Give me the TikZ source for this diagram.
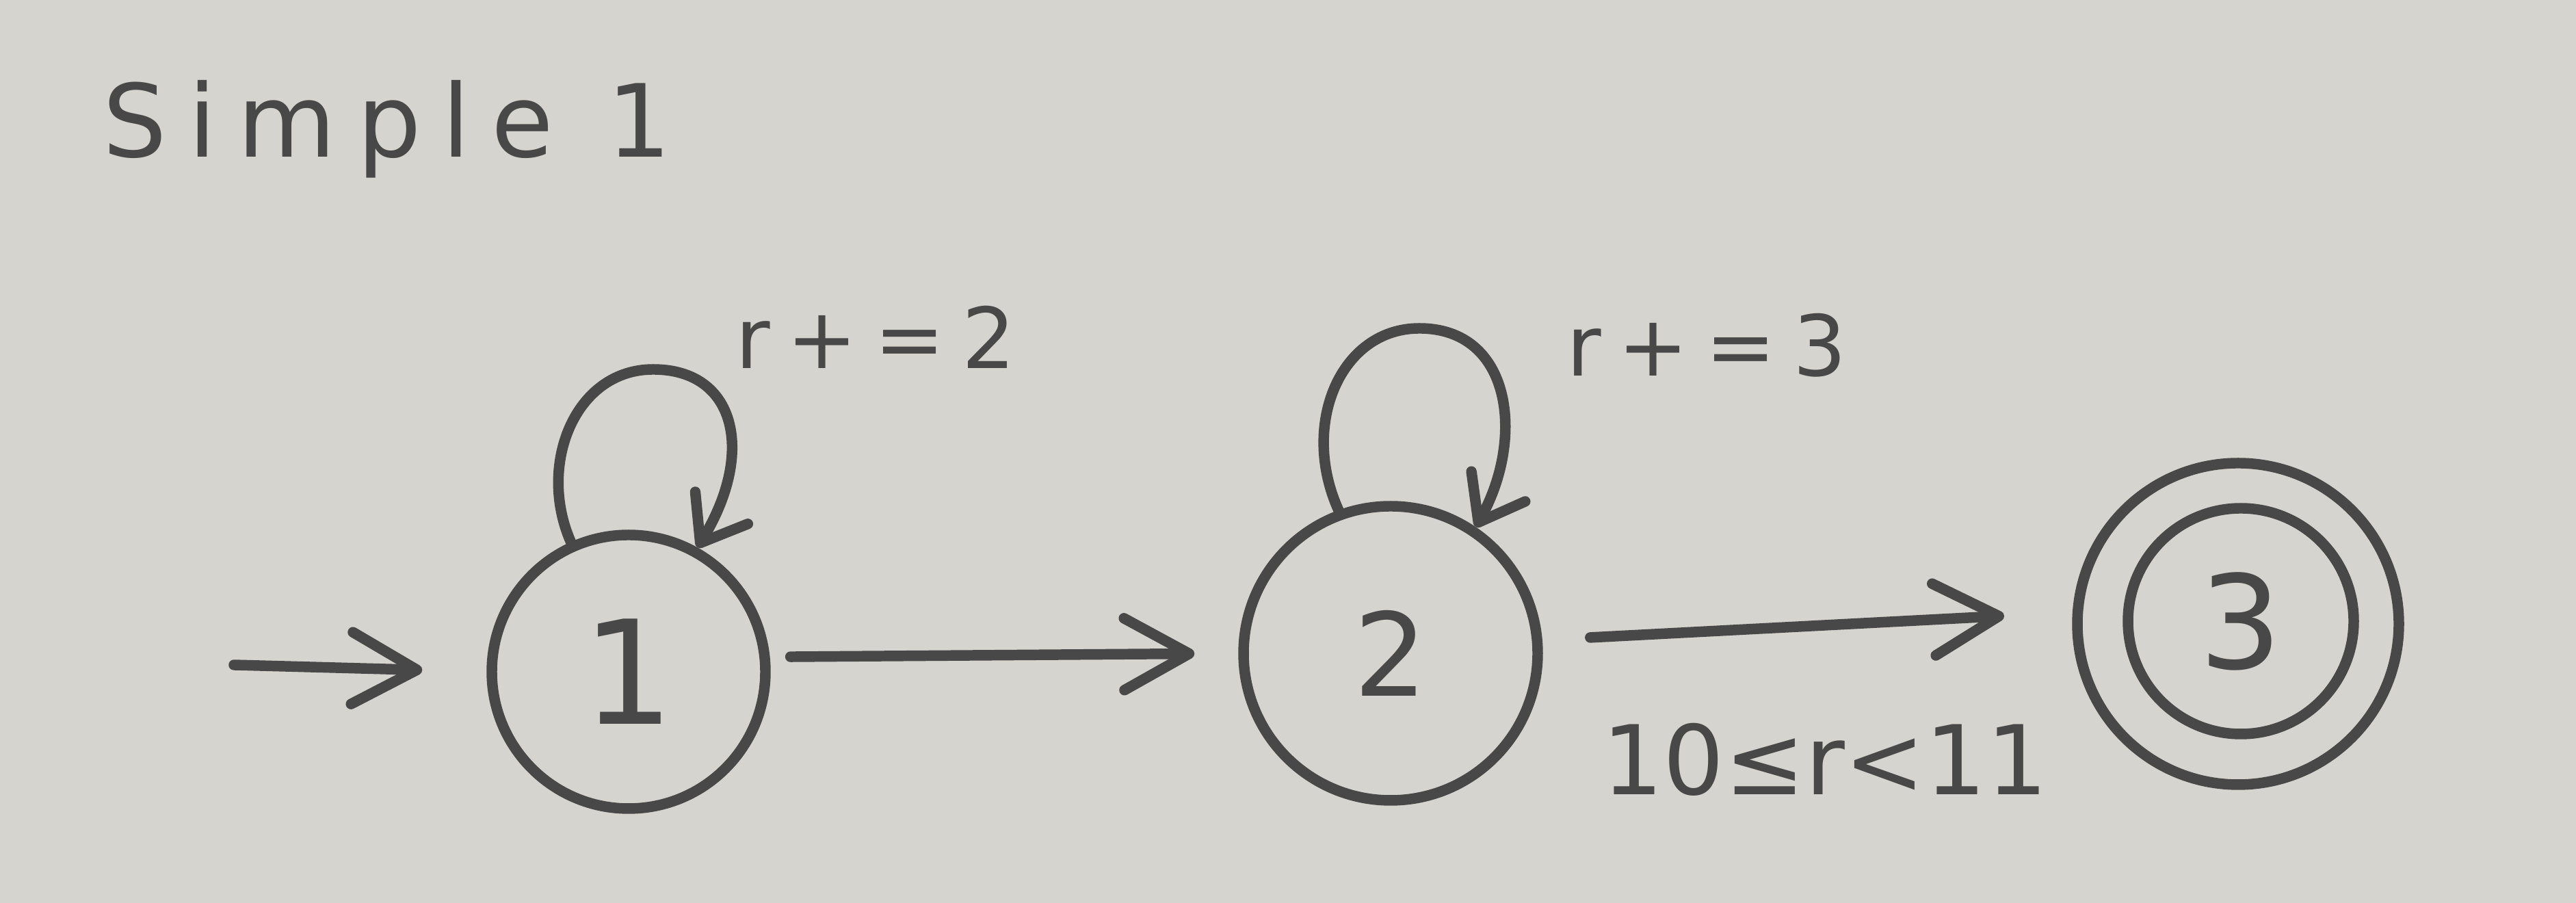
\documentclass[tikz,border=0pt]{standalone}
\usepackage{fontspec}
\setmainfont{DejaVu Sans}
\usetikzlibrary{arrows.meta}
\definecolor{paper}{RGB}{214,212,207}
\definecolor{ink}{RGB}{72,72,72}
\begin{document}
\begin{tikzpicture}[x=1cm,y=1cm,
  state/.style={circle, draw=ink, line width=4.4pt, inner sep=0pt, text=ink},
  arr/.style={draw=ink, line width=4.4pt, line cap=round, -{Straight Barb[round, length=0.95cm, width=1.05cm]}},
  looparr/.style={draw=ink, line width=4.4pt, line cap=round, -{Straight Barb[round, length=0.6cm, width=0.9cm]}},
  lbl/.style={text=ink, inner sep=0pt, font=\fontsize{35}{40}\selectfont\addfontfeature{LetterSpace=20}}]
\fill[paper] (0,0) rectangle (37.66,13.20);
\useasboundingbox (0,0) rectangle (37.66,13.20);
\node[anchor=base west, text=ink, inner sep=0pt, font=\fontsize{42}{46}\selectfont\addfontfeature{LetterSpace=21}] (title) at (1.5,10.9) {Simple 1};
\node[state, minimum size=4.0cm, font=\fontsize{60}{60}\selectfont] (s1) at (9.19,3.38) {1};
\node[state, minimum size=4.3cm, font=\fontsize{48}{48}\selectfont] (s2) at (20.33,3.65) {2};
\node[state, minimum size=4.7cm] (s3o) at (32.72,4.08) {};
\node[state, minimum size=3.3cm, font=\fontsize{54}{54}\selectfont] (s3) at (32.76,4.12) {3};
\coordinate (start) at (3.42,3.48);
\draw[arr, shorten >=0.94cm] (start) -- (s1.180);
\draw[arr, shorten <=0.3cm, shorten >=0.64cm] (s1.6) -- (s2.180);
\draw[arr, shorten <=0.7cm, shorten >=1.0cm] (s2.5) -- (s3o.176);
\draw[looparr] (s1.114) .. controls (7.85,6.4) and (8.4,7.8) .. (9.55,7.8) .. controls (10.75,7.8) and (11.05,6.6) .. (s1.61);
\draw[looparr] (s2.110) .. controls (19.0,7.0) and (19.6,8.4) .. (20.75,8.4) .. controls (22.1,8.4) and (22.3,6.8) .. (s2.56);
\node[lbl] (l11) at (12.80,8.27) {r+=2};
\node[lbl] (l22) at (24.95,8.15) {r+=3};
\node[lbl, font=\fontsize{40}{44}\selectfont] (l23) at (26.68,2.10) {10≤r<11};
\end{tikzpicture}
\end{document}
